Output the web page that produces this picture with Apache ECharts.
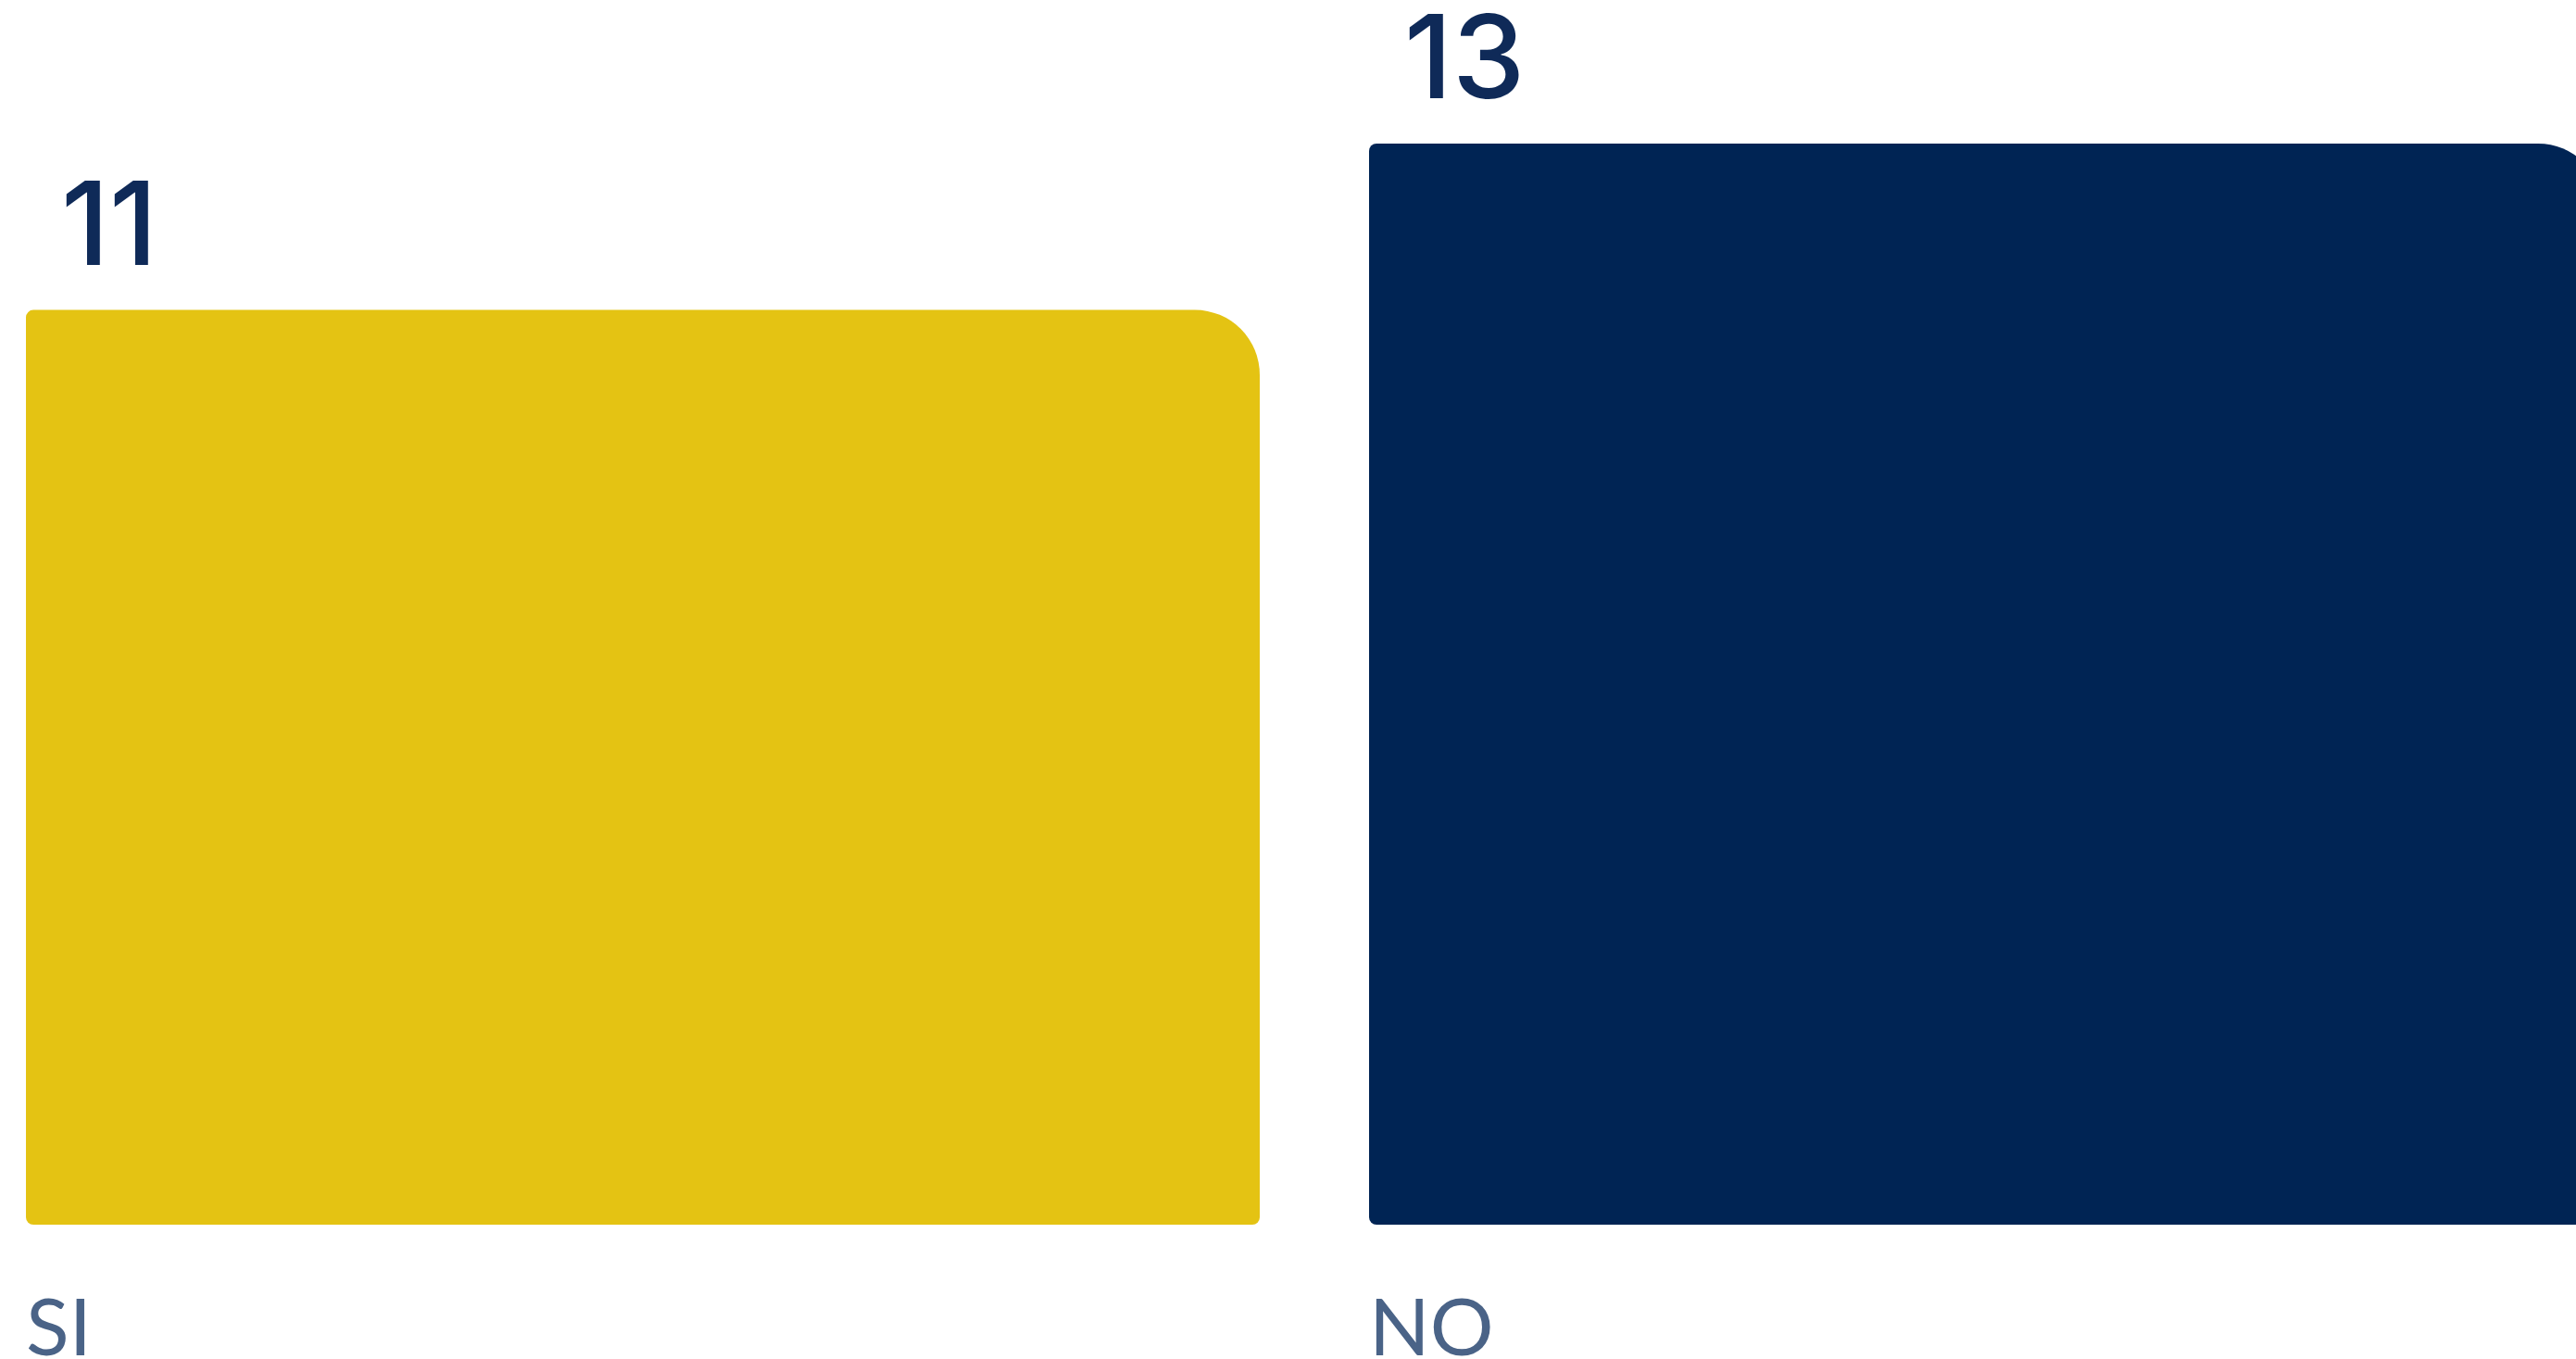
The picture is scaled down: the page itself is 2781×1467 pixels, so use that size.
<!DOCTYPE html>
<html>
<head>
<meta charset="utf-8">
<script src="https://cdn.jsdelivr.net/npm/echarts@6/dist/echarts.min.js"></script>
<style>
  html, body { margin: 0; padding: 0; background: #ffffff; overflow: hidden; }
  /* the chart is cut off on the right, so the canvas is wider than the page */
  #chart { width: 2900px; height: 1467px; margin-left: -31px; }
</style>
</head>
<body>
<div id="chart"></div>
<script>
// data
var categories = ['SI', 'NO'];
var values = [11, 13];

var barColors = ['#e4c313', '#002454'];

var myChart = echarts.init(document.getElementById('chart'));

var option = {
    animation: false,
    backgroundColor: '#ffffff',
    grid: {
        left: 0,
        right: 0,
        top: 155,
        bottom: 145,
        containLabel: false,
        outerBoundsMode: 'none'
    },
    xAxis: {
        type: 'category',
        data: categories,
        axisLine: {show: false},
        axisTick: {show: false},
        axisLabel: {
            margin: 70,
            formatter: '{a|{value}}',
            rich: {
                a: {
                    width: 1332,
                    align: 'left',
                    fontFamily: 'Lato',
                    fontSize: 86,
                    lineHeight: 86,
                    color: '#4a6387'
                }
            }
        }
    },
    yAxis: {
        type: 'value',
        min: 0,
        max: 13,
        show: false,
        splitLine: {show: false}
    },
    series: [{
        type: 'bar',
        barCategoryGap: '8.14%',
        data: values.map(function (v, i) {
            return {value: v, itemStyle: {color: barColors[i]}};
        }),
        itemStyle: {
            borderRadius: [8, 70, 8, 8]
        },
        label: {
            show: true,
            position: 'insideTopLeft',
            distance: 0,
            offset: [38, -24],
            verticalAlign: 'bottom',
            align: 'left',
            fontFamily: 'Inter',
            fontWeight: 500,
            fontSize: 125,
            color: '#0f2a58'
        }
    }]
};

myChart.setOption(option);
</script>
</body>
</html>
